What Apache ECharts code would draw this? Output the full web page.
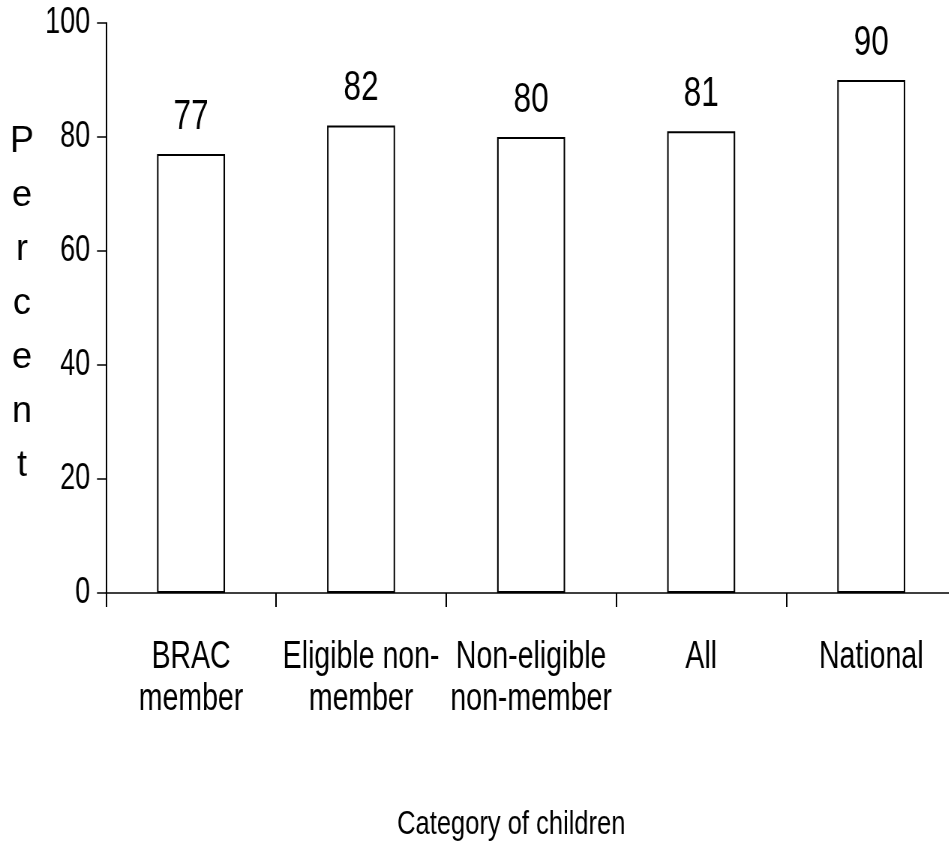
<!DOCTYPE html>
<html>
<head>
<meta charset="utf-8">
<script src="https://cdn.jsdelivr.net/npm/echarts@6/dist/echarts.min.js"></script>
<style>
html,body{margin:0;padding:0;background:#fff;overflow:hidden;width:949px;height:847px;}
#c{width:1275px;height:847px;transform:scaleX(0.75);transform-origin:0 0;}
</style>
</head>
<body>
<div id="c"></div>
<script>
var categories = ['BRAC\nmember', 'Eligible non-\nmember', 'Non-eligible\nnon-member', 'All', 'National'];
var values = [77, 82, 80, 81, 90];
var yTicks = [0, 20, 40, 60, 80, 100];
var yTitle = 'Percent';
var xTitle = 'Category of children';

var S = 0.75; // horizontal squeeze applied by CSS to mimic the narrow typeface
var FONT = '"Liberation Sans", Arial, sans-serif';
var chart = echarts.init(document.getElementById('c'), null, {renderer: 'canvas'});
chart.setOption({
  animation: false,
  backgroundColor: '#fff',
  grid: {left: 106 / S, right: 0, top: 23, bottom: 254, containLabel: false},
  xAxis: {
    type: 'category',
    data: categories,
    boundaryGap: true,
    axisLine: {show: true, lineStyle: {color: '#000', width: 1.5}},
    axisTick: {show: true, length: 14, inside: false, lineStyle: {color: '#000', width: 2}},
    axisLabel: {interval: 0, margin: 44, color: '#000', fontFamily: FONT, fontSize: 38, lineHeight: 42},
    name: xTitle,
    nameLocation: 'middle',
    nameGap: 215,
    nameTextStyle: {color: '#000', fontFamily: FONT, fontSize: 34, padding: [0, 53, 0, 0]},
    splitLine: {show: false}
  },
  yAxis: {
    type: 'value',
    min: yTicks[0],
    max: yTicks[yTicks.length - 1],
    interval: yTicks[1] - yTicks[0],
    axisLine: {show: true, lineStyle: {color: '#000', width: 2}},
    axisTick: {show: true, length: 12, inside: false, lineStyle: {color: '#000', width: 1.5}},
    axisLabel: {margin: 21, color: '#000', fontFamily: FONT, fontSize: 36},
    splitLine: {show: false}
  },
  graphic: [{
    type: 'text',
    x: 22 / S,
    y: 304,
    scaleX: 1 / S,
    style: {
      text: yTitle.split('').join('\n'),
      font: '36px "Liberation Sans", Arial, sans-serif',
      lineHeight: 54,
      align: 'center',
      verticalAlign: 'middle',
      fill: '#000'
    }
  }],
  series: [{
    type: 'bar',
    data: values,
    barWidth: 68 / S,
    itemStyle: {color: '#fff', borderColor: '#000', borderWidth: 2},
    label: {show: true, position: 'top', distance: 16, color: '#000', fontFamily: FONT, fontSize: 42}
  }]
});
</script>
</body>
</html>
